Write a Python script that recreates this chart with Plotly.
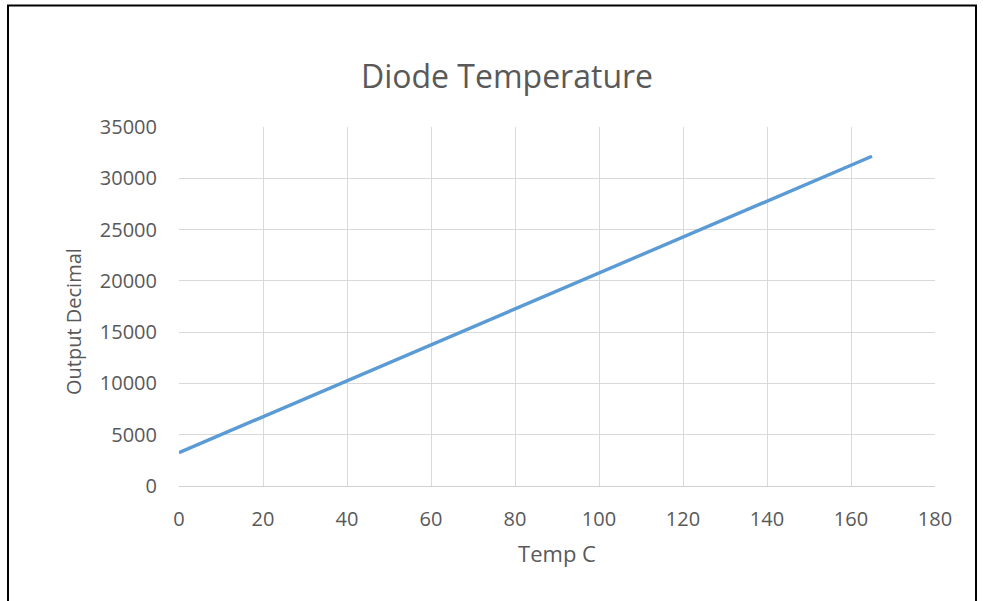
import plotly.graph_objects as go

temp_c = [0, 20, 40, 60, 80, 100, 120, 140, 160, 165]
output_decimal = [3250, 6750, 10250, 13750, 17250, 20750, 24250, 27750, 31250, 32150]

W, H = 985, 601
L, R, T, B = 179, 935, 127, 486

def px(p):
    return (p - L) / (R - L)

def py(p):
    return (B - p) / (B - T)

fig = go.Figure()
fig.add_trace(go.Scatter(x=temp_c, y=output_decimal, mode="lines",
                         line=dict(color="#5b9bd5", width=3.4), showlegend=False))

font = "'Open Sans', sans-serif"
fig.update_layout(
    width=W, height=H,
    margin=dict(l=L, r=W - R, t=T, b=H - B),
    paper_bgcolor="white", plot_bgcolor="white",
    font=dict(family=font, color="#595959", size=20),
    xaxis=dict(range=[0, 180], tickvals=list(range(0, 181, 20)),
               showgrid=True, gridcolor="#d9d9d9", gridwidth=1,
               showline=True, linecolor="#d0d0d0", linewidth=1, mirror=False,
               zeroline=False, ticks="", tickfont=dict(size=20),
               ticklabelstandoff=15,
               title=dict(text="Temp C", font=dict(size=22), standoff=15)),
    yaxis=dict(range=[0, 35000], tickvals=list(range(0, 35001, 5000)), tickformat="d",
               showgrid=True, gridcolor="#d9d9d9", gridwidth=1,
               zeroline=False, showline=False, ticks="", tickfont=dict(size=20),
               ticklabelstandoff=21),
    title=dict(text="Diode Temperature", x=507 / W, xanchor="center",
               y=1 - 77 / H, yanchor="middle", font=dict(size=32, color="#595959")),
)

fig.add_annotation(text="Output Decimal", xref="paper", yref="paper",
                   x=px(73), y=py(322), xanchor="center", yanchor="middle",
                   textangle=-90, showarrow=False, font=dict(size=20, color="#595959"))

fig.add_shape(type="rect", xref="paper", yref="paper",
              x0=px(8), x1=px(976), y0=py(5.5), y1=py(700),
              line=dict(color="black", width=2), fillcolor="rgba(0,0,0,0)", layer="above")

fig.write_html("out.html", config={"displayModeBar": False},
               post_script="document.body.style.margin='0';")
